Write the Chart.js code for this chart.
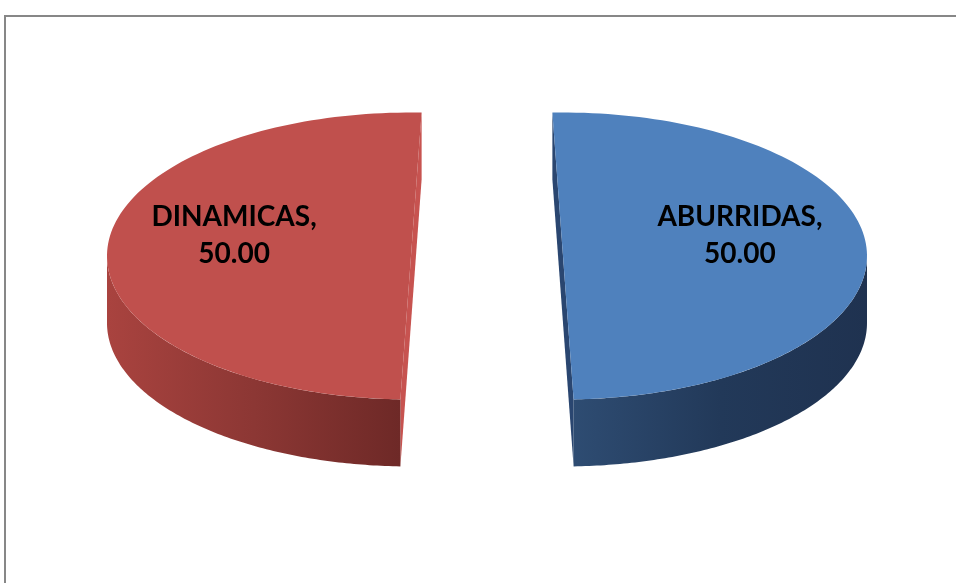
<!DOCTYPE html>
<html>
<head>
<meta charset="utf-8">
<script src="https://cdn.jsdelivr.net/npm/chart.js@4.4.1/dist/chart.umd.min.js"></script>
<style>
  body { margin: 0; background: #fff; overflow: hidden; }
  #frame { position: absolute; left: 4px; top: 15px; width: 1000px; height: 700px; border: 2px solid #878787; }
  #c { position: absolute; left: 0; top: 0; }
</style>
</head>
<body>
<div id="frame"></div>
<canvas id="c" width="956" height="583"></canvas>
<script>
// chart data
const labels = ['ABURRIDAS', 'DINAMICAS'];
const values = [50, 50];
const topColors = ['#4F81BD', '#C0504D'];
const sideColors = [['#2E4C72', '#223959', '#1F3250'], ['#A9433F', '#8C3734', '#6E2927']];
const faceColors = ['#2A4670', '#C75350'];

// 3d look
const squash = 0.472;   // vertical ratio of the ellipse
const depth = 67;       // thickness of the pie
const explode = 76;     // distance each slice is pulled out
const tiltDeg = 2;      // fake perspective on the cut edges

function pt(cx, cy, r, a, dy) {
    return [cx + r * Math.cos(a), cy + r * squash * Math.sin(a) + (dy || 0)];
}

function sliceGeom(arc) {
    const mid = (arc.startAngle + arc.endAngle) / 2;
    const tilt = -Math.cos(mid) * tiltDeg * Math.PI / 180;
    return {
        cx: arc.x + Math.cos(mid) * explode,
        cy: arc.y,
        r: arc.outerRadius,
        s: arc.startAngle + tilt,
        e: arc.endAngle + tilt,
        mid: mid
    };
}

function drawSlice(ctx, arc, i) {
    const g = sliceGeom(arc);
    const steps = 120;

    // cut face along the diameter
    const p1 = pt(g.cx, g.cy, g.r, g.s);
    const p2 = pt(g.cx, g.cy, g.r, g.e);
    ctx.beginPath();
    ctx.moveTo(p1[0], p1[1]);
    ctx.lineTo(p2[0], p2[1]);
    ctx.lineTo(p2[0], p2[1] + depth);
    ctx.lineTo(p1[0], p1[1] + depth);
    ctx.closePath();
    ctx.fillStyle = faceColors[i];
    ctx.fill();

    // outer wall, only the front part
    const a0 = Math.max(g.s, 0);
    const a1 = Math.min(g.e, Math.PI);
    if (a1 > a0) {
        const xs = [pt(g.cx, g.cy, g.r, a0)[0], pt(g.cx, g.cy, g.r, a1)[0]];
        const grad = ctx.createLinearGradient(Math.min(...xs), 0, Math.max(...xs), 0);
        const sc = i === 0 ? sideColors[0] : sideColors[1];
        grad.addColorStop(0, sc[0]);
        grad.addColorStop(0.5, sc[1]);
        grad.addColorStop(1, sc[2]);
        ctx.beginPath();
        for (let k = 0; k <= steps; k++) {
            const p = pt(g.cx, g.cy, g.r, a0 + (a1 - a0) * k / steps);
            k === 0 ? ctx.moveTo(p[0], p[1]) : ctx.lineTo(p[0], p[1]);
        }
        for (let k = steps; k >= 0; k--) {
            const p = pt(g.cx, g.cy, g.r, a0 + (a1 - a0) * k / steps, depth);
            ctx.lineTo(p[0], p[1]);
        }
        ctx.closePath();
        ctx.fillStyle = grad;
        ctx.fill();
    }

    // top
    ctx.beginPath();
    ctx.moveTo(g.cx, g.cy);
    for (let k = 0; k <= steps; k++) {
        const p = pt(g.cx, g.cy, g.r, g.s + (g.e - g.s) * k / steps);
        ctx.lineTo(p[0], p[1]);
    }
    ctx.closePath();
    ctx.fillStyle = topColors[i];
    ctx.fill();
}

const pie3d = {
    id: 'pie3d',
    beforeDatasetsDraw(chart) {
        const ctx = chart.ctx;
        const arcs = chart.getDatasetMeta(0).data;
        ctx.save();
        arcs.forEach((arc, i) => drawSlice(ctx, arc, i));
        ctx.restore();
        return false;
    },
    afterDraw(chart) {
        const ctx = chart.ctx;
        const arcs = chart.getDatasetMeta(0).data;
        ctx.save();
        ctx.fillStyle = '#000';
        ctx.font = 'bold 28px Lato';
        ctx.textAlign = 'center';
        ctx.textBaseline = 'alphabetic';
        arcs.forEach((arc, i) => {
            const g = sliceGeom(arc);
            const x = g.cx + Math.cos(g.mid) * g.r * 0.582;
            ctx.fillText(labels[i] + ',', x, g.cy - 30);
            ctx.fillText(values[i].toFixed(2), x, g.cy + 7);
        });
        ctx.restore();
    }
};

new Chart(document.getElementById('c'), {
    type: 'pie',
    data: {
        labels: labels,
        datasets: [{
            data: values,
            backgroundColor: topColors,
            borderWidth: 0,
            radius: 304
        }]
    },
    options: {
        responsive: false,
        animation: false,
        layout: { padding: { left: 18, bottom: 71 } },
        plugins: {
            legend: { display: false },
            tooltip: { enabled: false }
        }
    },
    plugins: [pie3d]
});
</script>
</body>
</html>
